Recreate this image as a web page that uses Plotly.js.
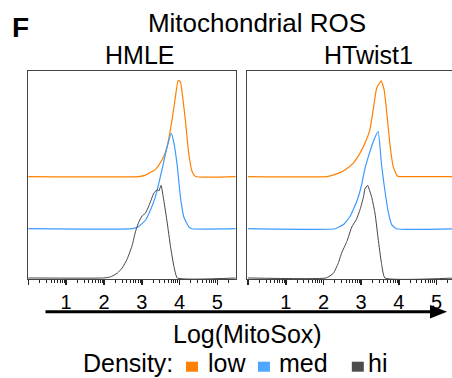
<!DOCTYPE html>
<html>
<head>
<meta charset="utf-8">
<script src="https://cdn.plot.ly/plotly-3.0.1.min.js"></script>
<style>html,body{margin:0;padding:0;background:#fff;}#chart{width:452px;height:378px;}</style>
</head>
<body>
<div id="chart"></div>
<script>
// ---------- data ----------
var panels = ["HMLE", "HTwist1"];
var densityLevels = ["low", "med", "hi"];
var levelColors = ["#FF8000", "#3D9BFF", "#444444"];
var legendColors = ["#FF7F00", "#4DA6FF", "#4D4D4D"];
var majorTicks = [0, 1, 2, 3, 4, 5];
var majorTickText = ["", "1", "2", "3", "4", "5"];

// HMLE
var hmleLowX = [0, 2.92, 3.10, 3.37, 3.54, 3.67, 3.80, 3.89, 3.96, 4.02, 4.08, 4.16, 4.24, 4.33, 4.42, 5.5];
var hmleLowY = [0, 0, 0.007, 0.036, 0.081, 0.145, 0.274, 0.386, 0.464, 0.459, 0.386, 0.259, 0.114, 0.024, 0, 0];
var hmleMedX = [0, 2.75, 2.92, 3.10, 3.23, 3.36, 3.45, 3.54, 3.67, 3.78, 3.85, 3.94, 4.02, 4.11, 4.24, 4.33, 5.5];
var hmleMedY = [0, 0, 0.011, 0.042, 0.090, 0.155, 0.219, 0.29, 0.396, 0.461, 0.413, 0.30, 0.155, 0.058, 0.010, 0, 0];
var hmleHiX = [0, 1.99, 2.17, 2.35, 2.48, 2.61, 2.75, 2.83, 2.92, 3.01, 3.10, 3.19, 3.32, 3.41, 3.45, 3.51, 3.58, 3.67, 3.76, 3.85, 3.94, 5.5];
var hmleHiY = [0, 0, 0.005, 0.023, 0.048, 0.09, 0.16, 0.222, 0.27, 0.30, 0.314, 0.35, 0.41, 0.427, 0.42, 0.447, 0.377, 0.27, 0.151, 0.055, 0, 0];

// HTwist1
var htLowX = [0, 2.09, 2.35, 2.57, 2.79, 2.97, 3.10, 3.23, 3.32, 3.41, 3.53, 3.61, 3.68, 3.76, 3.85, 3.96, 4.03, 5.5];
var htLowY = [0, 0, 0.013, 0.032, 0.065, 0.113, 0.161, 0.226, 0.322, 0.427, 0.463, 0.419, 0.308, 0.161, 0.048, 0.003, 0, 0];
var htMedX = [0, 2.31, 2.53, 2.70, 2.88, 3.01, 3.10, 3.22, 3.32, 3.45, 3.54, 3.61, 3.72, 3.81, 3.93, 5.5];
var htMedY = [0, 0, 0.020, 0.058, 0.13, 0.21, 0.29, 0.365, 0.42, 0.47, 0.31, 0.21, 0.08, 0.02, 0, 0];
var htHiX = [0, 2.07, 2.26, 2.39, 2.48, 2.62, 2.75, 2.88, 2.97, 3.06, 3.10, 3.17, 3.28, 3.37, 3.45, 3.54, 3.63, 5.5];
var htHiY = [0, 0, 0.022, 0.07, 0.12, 0.176, 0.246, 0.285, 0.33, 0.39, 0.43, 0.447, 0.39, 0.31, 0.19, 0.07, 0, 0];

// vertical stacking offsets of the histograms (low on top)
var levelOffsets = [0.49, 0.238, 0];

// ---------- build ----------
var W = 452, H = 378, L = 27.5, R = 0, T = 71, B = 99;
var PW = W - L - R, PH = H - T - B;
function px2x(px) { return (px - L) / PW; }
function py2y(py) { return (H - B - py) / PH; }

var minorTicks = [];
for (var n = 0; n <= 5; n++) {
  for (var k = 2; k <= 9; k++) {
    var v = n + Math.log10(k);
    if (v < 5.45) minorTicks.push(v);
  }
}

var seriesX = [[hmleLowX, hmleMedX, hmleHiX], [htLowX, htMedX, htHiX]];
var seriesY = [[hmleLowY, hmleMedY, hmleHiY], [htLowY, htMedY, htHiY]];

var traces = [];
for (var p = 0; p < panels.length; p++) {
  for (var i = 0; i < densityLevels.length; i++) {
    var off = levelOffsets[i];
    traces.push({
      type: "scatter", mode: "lines",
      x: seriesX[p][i],
      y: seriesY[p][i].map(function (v) { return v + off; }),
      xaxis: p === 0 ? "x" : "x2",
      yaxis: p === 0 ? "y" : "y2",
      name: densityLevels[i],
      showlegend: false,
      line: { color: levelColors[i], width: i === 2 ? 1 : 1.2, shape: "spline", smoothing: 0.4 },
      hoverinfo: "skip"
    });
  }
}

var FONT = "Liberation Sans, Arial, Helvetica, sans-serif";

function xaxisCfg(domain, range) {
  return {
    domain: domain, range: range,
    showline: true, mirror: true, linecolor: "#444", linewidth: 1.2,
    ticks: "outside", ticklen: 4.5, tickwidth: 1.6, tickcolor: "#222",
    tickmode: "array", tickvals: majorTicks, ticktext: majorTickText,
    minor: { tickmode: "array", tickvals: minorTicks, ticks: "outside", ticklen: 2.5, tickwidth: 1, tickcolor: "#222", showgrid: false },
    showgrid: false, zeroline: false,
    tickfont: { family: FONT, size: 20, color: "#000" },
    fixedrange: true
  };
}
function yaxisCfg(anchor, mirror) {
  return {
    anchor: anchor, range: [-0.005, 1],
    showline: true, mirror: mirror, linecolor: "#444", linewidth: 1.2,
    showticklabels: false, ticks: "", showgrid: false, zeroline: false,
    fixedrange: true
  };
}

var xa1 = xaxisCfg([0, px2x(235.3)], [-0.01, 5.48]);
var xa2 = xaxisCfg([px2x(246.7), 1], [-0.03, 5.41]);
xa2.anchor = "y2";

var annotations = [
  { text: "<b>F</b>", x: px2x(20), y: py2y(27.5), font: { size: 28 } },
  { text: panels[0], x: px2x(139), y: py2y(55), font: { size: 25 } },
  { text: panels[1], x: px2x(368), y: py2y(55), font: { size: 25 } },
  { text: "Log(MitoSox)", x: px2x(247.5), y: py2y(334), font: { size: 25 } },
  { text: "Density:", x: px2x(81), y: py2y(362.7), xanchor: "left", font: { size: 25 } },
  { text: densityLevels[0], x: px2x(206), y: py2y(362.7), xanchor: "left", font: { size: 25 } },
  { text: densityLevels[1], x: px2x(277), y: py2y(362.7), xanchor: "left", font: { size: 25 } },
  { text: densityLevels[2], x: px2x(366), y: py2y(362.7), xanchor: "left", font: { size: 25 } }
].map(function (a) {
  a.xref = "paper"; a.yref = "paper"; a.showarrow = false;
  a.xanchor = a.xanchor || "center"; a.yanchor = "middle";
  a.font.family = FONT; a.font.color = "#000";
  return a;
});

var sqX = [185.7, 257.7, 351.7];
var shapes = [
  // axis arrow
  { type: "line", xref: "paper", yref: "paper", x0: px2x(45), x1: px2x(432), y0: py2y(311.7), y1: py2y(311.7), line: { color: "#000", width: 3 } },
  { type: "path", xref: "paper", yref: "paper",
    path: "M " + px2x(430) + " " + py2y(305) + " L " + px2x(447) + " " + py2y(311.7) + " L " + px2x(430) + " " + py2y(318.4) + " Z",
    fillcolor: "#000", line: { width: 0 } }
];
for (var s = 0; s < 3; s++) {
  shapes.push({ type: "rect", xref: "paper", yref: "paper",
    x0: px2x(sqX[s]), x1: px2x(sqX[s] + 12), y0: py2y(371.7), y1: py2y(361.7),
    fillcolor: legendColors[s], line: { width: 0 } });
}

var layout = {
  width: W, height: H,
  margin: { l: L, r: R, t: T, b: B, pad: 0 },
  paper_bgcolor: "#fff", plot_bgcolor: "#fff",
  showlegend: false,
  title: { text: "Mitochondrial ROS", x: 257 / W, xanchor: "center", y: 1 - 22.5 / H, yanchor: "middle",
           xref: "container", yref: "container", font: { family: FONT, size: 26, color: "#000" } },
  xaxis: xa1, yaxis: yaxisCfg("x", true),
  xaxis2: xa2, yaxis2: yaxisCfg("x2", false),
  annotations: annotations,
  shapes: shapes
};

Plotly.newPlot("chart", traces, layout, { staticPlot: true, displayModeBar: false });
</script>
</body>
</html>
